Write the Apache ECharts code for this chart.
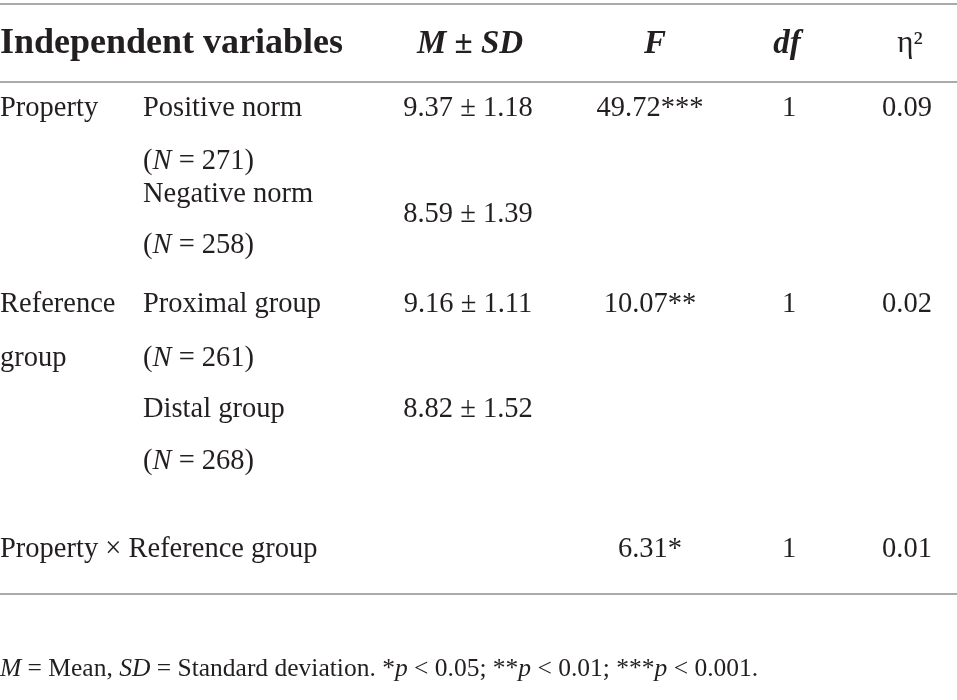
<!DOCTYPE html>
<html>
<head>
<meta charset="utf-8">
<script src="https://cdn.jsdelivr.net/npm/echarts@6/dist/echarts.min.js"></script>
<style>
  html, body { margin: 0; padding: 0; background: #fff; }
  #table { width: 957px; height: 700px; }
</style>
</head>
<body>
<div id="table"></div>
<script>
// table content
const headers = ['Independent variables', '{bi|M} ± {bi|SD}', '{bi|F}', '{bi|df}', 'η²'];
const factors = ['Property', 'Reference', 'group'];
const levels = ['Positive norm', 'Negative norm', 'Proximal group', 'Distal group'];
const levelN = [271, 258, 261, 268];
const means = [9.37, 8.59, 9.16, 8.82];
const sds = [1.18, 1.39, 1.11, 1.52];
const effects = ['Property', 'Reference group', 'Property × Reference group'];
const fValues = ['49.72***', '10.07**', '6.31*'];
const dfValues = [1, 1, 1];
const etaSq = ['0.09', '0.02', '0.01'];
const note = '{i|M} = Mean, {i|SD} = Standard deviation. *{i|p} < 0.05; **{i|p} < 0.01; ***{i|p} < 0.001.';

// layout
const colX = [0, 143, 468, 650, 789, 907];
const headX = [0, 470, 655, 787, 910];
const headY = 44;
const levelY = [109, 195, 305, 410];
const levelNY = [162, 246, 359, 462];
const meanY = [109, 215, 305, 410];
const effectY = [109, 305, 550];
const factorY = [109, 305, 359];
const ruleY = [4, 82, 594];
const noteY = 669;

const ink = '#231f20';
const serif = '"Liberation Serif", "DejaVu Serif", serif';
const bodySize = 28.5;
const headSize = 36;
const noteSize = 25.5;

const chart = echarts.init(document.getElementById('table'));

function cell(text, x, y, align, extra) {
    return {
        type: 'text',
        x: x,
        y: y,
        style: Object.assign({
            text: text,
            fill: ink,
            font: bodySize + 'px ' + serif,
            align: align,
            verticalAlign: 'middle',
            rich: {
                i: { fontStyle: 'italic', fontSize: bodySize, fontFamily: serif, fill: ink },
                bi: { fontStyle: 'italic', fontWeight: 'bold', fontSize: 33, fontFamily: serif, fill: ink }
            }
        }, extra || {})
    };
}

const elements = [];

ruleY.forEach(function (y) {
    elements.push({
        type: 'line',
        shape: { x1: 0, y1: y, x2: 957, y2: y },
        style: { stroke: '#8e8e8e', lineWidth: 1.5 }
    });
});

headers.forEach(function (h, i) {
    let font = 'bold 33px ' + serif;
    if (i === 0) font = 'bold ' + headSize + 'px ' + serif;
    if (i === 4) font = '31px ' + serif;
    elements.push(cell(h, headX[i], headY, i === 0 ? 'left' : 'center', { font: font }));
});

factors.forEach(function (f, i) {
    elements.push(cell(f, colX[0], factorY[i], 'left'));
});

levels.forEach(function (lv, i) {
    elements.push(cell(lv, colX[1], levelY[i], 'left'));
    elements.push(cell('({i|N} = ' + levelN[i] + ')', colX[1], levelNY[i], 'left'));
    elements.push(cell(means[i].toFixed(2) + ' ± ' + sds[i].toFixed(2), colX[2], meanY[i], 'center'));
});

elements.push(cell(effects[2], colX[0], effectY[2], 'left'));

fValues.forEach(function (f, i) {
    elements.push(cell(f, colX[3], effectY[i], 'center'));
    elements.push(cell(String(dfValues[i]), colX[4], effectY[i], 'center'));
    elements.push(cell(etaSq[i], colX[5], effectY[i], 'center'));
});

elements.push(cell(note, 0, noteY, 'left', {
    font: noteSize + 'px ' + serif,
    rich: { i: { fontStyle: 'italic', fontSize: noteSize, fontFamily: serif, fill: ink } }
}));

chart.setOption({
    backgroundColor: '#fff',
    animation: false,
    graphic: { elements: elements }
});
</script>
</body>
</html>
